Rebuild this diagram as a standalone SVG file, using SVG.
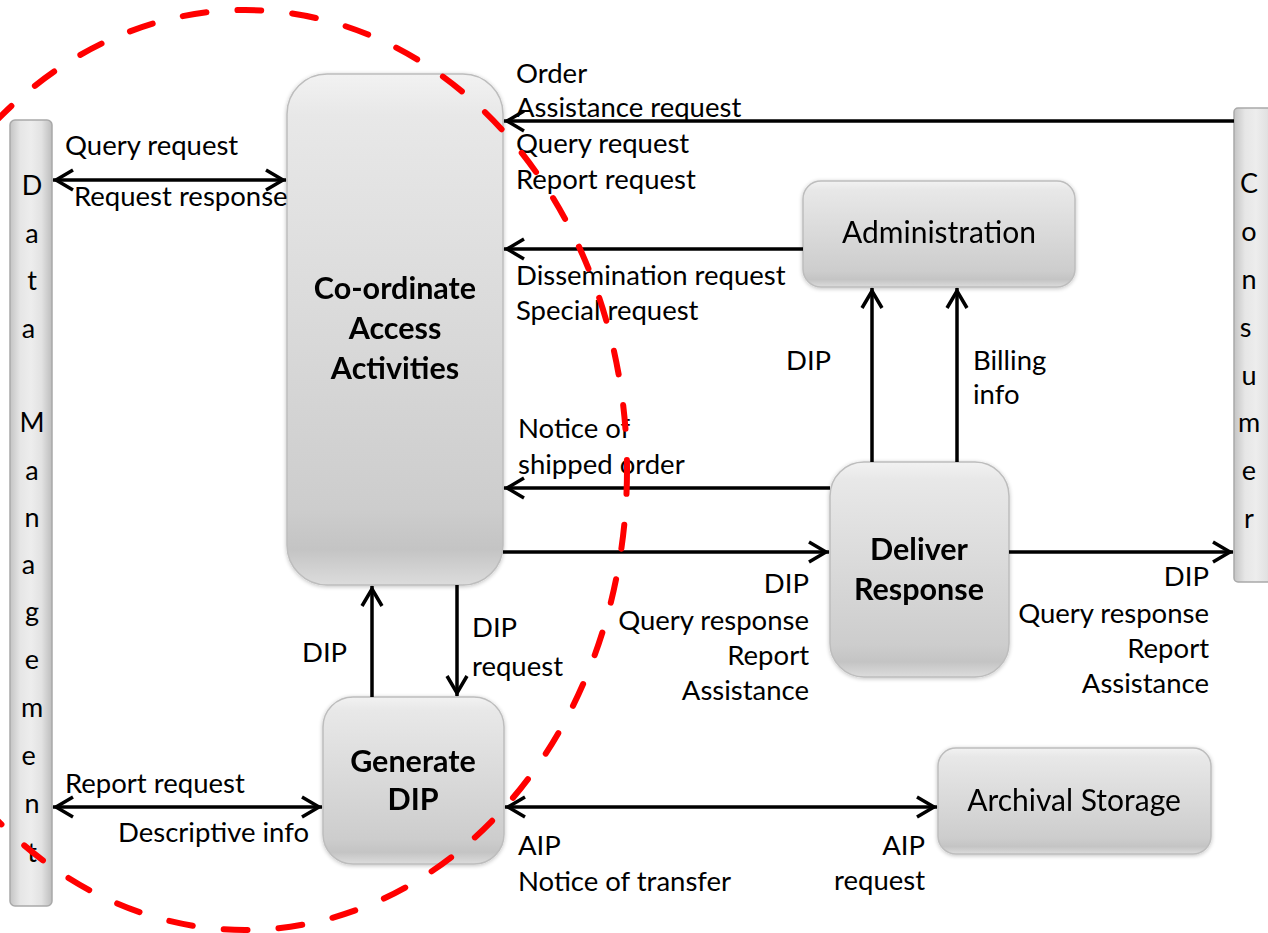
<svg xmlns="http://www.w3.org/2000/svg" width="1268" height="933" viewBox="0 0 1268 933">
  <defs>
    <linearGradient id="boxFill" x1="0" y1="0" x2="0" y2="1">
      <stop offset="0" stop-color="#f2f2f2"/>
      <stop offset="0.08" stop-color="#e8e8e8"/>
      <stop offset="0.85" stop-color="#cdcdcd"/>
      <stop offset="0.93" stop-color="#c4c4c4"/>
      <stop offset="1" stop-color="#dcdcdc"/>
    </linearGradient>
    <linearGradient id="barFill" x1="0" y1="0" x2="1" y2="0">
      <stop offset="0" stop-color="#c4c4c4"/>
      <stop offset="0.25" stop-color="#e6e6e6"/>
      <stop offset="0.5" stop-color="#ededed"/>
      <stop offset="0.75" stop-color="#e2e2e2"/>
      <stop offset="1" stop-color="#bdbdbd"/>
    </linearGradient>
    <filter id="soft" x="-10%" y="-10%" width="120%" height="120%">
      <feGaussianBlur in="SourceAlpha" stdDeviation="2"/>
      <feOffset dx="0" dy="1" result="b"/>
      <feComponentTransfer><feFuncA type="linear" slope="0.25"/></feComponentTransfer>
      <feMerge><feMergeNode/><feMergeNode in="SourceGraphic"/></feMerge>
    </filter>
    <marker id="ah" viewBox="-22 -13 26 26" refX="3" refY="0" markerWidth="26" markerHeight="26" markerUnits="userSpaceOnUse" orient="auto-start-reverse">
      <path d="M-17,-10 L0,0 L-17,10" fill="none" stroke="#000" stroke-width="3.5"/>
    </marker>
  </defs>
  <style>
    .box { fill: url(#boxFill); stroke: #bdbdbd; stroke-width: 1.5; }
    .bar { fill: url(#barFill); stroke: #a9a9a9; stroke-width: 1.5; }
    .lbl { font-family: Lato, "Liberation Sans", sans-serif; font-size: 27.5px; fill: #000; }
    .end { text-anchor: end; }
    .ttl { font-family: Lato, "Liberation Sans", sans-serif; font-size: 30.5px; font-weight: 700; fill: #000; text-anchor: middle; }
    .big { font-family: Lato, "Liberation Sans", sans-serif; font-size: 30px; fill: #000; text-anchor: middle; }
    .vert { font-family: Lato, "Liberation Sans", sans-serif; font-size: 27px; fill: #000; text-anchor: middle; }
    .flow { fill: none; stroke: #000; stroke-width: 3.5; marker-end: url(#ah); }
    .both { marker-start: url(#ah); }
    .scope { fill: none; stroke: #ff0000; stroke-width: 6; stroke-dasharray: 24 31; stroke-linecap: round; }
  </style>

  <!-- external entity: Data Management -->
  <g id="data-management">
    <rect class="bar" x="10" y="120" width="42" height="786" rx="5"/>
    <text class="vert">
      <tspan x="32" y="195">D</tspan><tspan x="32" y="243">a</tspan><tspan x="32" y="290">t</tspan><tspan x="32" y="338">a</tspan>
      <tspan x="32" y="432">M</tspan><tspan x="32" y="480">a</tspan><tspan x="32" y="527">n</tspan><tspan x="32" y="574">a</tspan>
      <tspan x="32" y="621">g</tspan><tspan x="32" y="669">e</tspan><tspan x="32" y="717">m</tspan><tspan x="32" y="765">e</tspan>
      <tspan x="32" y="813">n</tspan><tspan x="32" y="862">t</tspan>
    </text>
  </g>

  <!-- external entity: Consumer -->
  <g id="consumer">
    <rect class="bar" x="1234" y="108" width="44" height="474" rx="4"/>
    <text class="vert">
      <tspan x="1249" y="193">C</tspan><tspan x="1249" y="241">o</tspan><tspan x="1249" y="289">n</tspan><tspan x="1249" y="337">s</tspan>
      <tspan x="1249" y="385">u</tspan><tspan x="1249" y="432">m</tspan><tspan x="1249" y="480">e</tspan><tspan x="1249" y="528">r</tspan>
    </text>
  </g>

  <g id="coordinate-access" filter="url(#soft)">
    <rect class="box" x="287" y="74" width="216" height="511" rx="40"/>
    <text class="ttl"><tspan x="395" y="299">Co-ordinate</tspan><tspan x="395" y="339">Access</tspan><tspan x="395" y="379">Activities</tspan></text>
  </g>

  <g id="administration" filter="url(#soft)">
    <rect class="box" x="803" y="181" width="272" height="106" rx="18"/>
    <text class="big" x="939" y="243">Administration</text>
  </g>

  <g id="deliver-response" filter="url(#soft)">
    <rect class="box" x="830" y="462" width="179" height="215" rx="34"/>
    <text class="ttl"><tspan x="919" y="560">Deliver</tspan><tspan x="919" y="600">Response</tspan></text>
  </g>

  <g id="generate-dip" filter="url(#soft)">
    <rect class="box" x="323" y="697" width="181" height="167" rx="30"/>
    <text class="ttl"><tspan x="413" y="772">Generate</tspan><tspan x="413" y="810">DIP</tspan></text>
  </g>

  <g id="archival-storage" filter="url(#soft)">
    <rect class="box" x="938" y="748" width="273" height="106" rx="18"/>
    <text class="big" x="1074" y="811">Archival Storage</text>
  </g>

  <!-- data flows -->
  <g id="connectors">
    <line class="flow both" x1="53" y1="180" x2="286" y2="180"/>
    <line class="flow" x1="1234" y1="121" x2="504" y2="121"/>
    <line class="flow" x1="803" y1="249" x2="504" y2="249"/>
    <line class="flow" x1="830" y1="488" x2="504" y2="488"/>
    <line class="flow" x1="503" y1="552" x2="829" y2="552"/>
    <line class="flow" x1="1009" y1="552" x2="1233" y2="552"/>
    <line class="flow" x1="872" y1="462" x2="872" y2="288"/>
    <line class="flow" x1="957" y1="462" x2="957" y2="288"/>
    <line class="flow" x1="372" y1="697" x2="372" y2="586"/>
    <line class="flow" x1="457" y1="585" x2="457" y2="696"/>
    <line class="flow both" x1="53" y1="807" x2="322" y2="807"/>
    <line class="flow both" x1="505" y1="807" x2="937" y2="807"/>
  </g>

  <!-- flow labels -->
  <g id="labels">
    <text class="lbl" x="65" y="155">Query request</text>
    <text class="lbl" x="74" y="206">Request response</text>
    <text class="lbl" x="516" y="83">Order</text>
    <text class="lbl" x="516" y="117">Assistance request</text>
    <text class="lbl" x="516" y="153">Query request</text>
    <text class="lbl" x="516" y="189">Report request</text>
    <text class="lbl" x="516" y="285">Dissemination request</text>
    <text class="lbl" x="516" y="320">Special request</text>
    <text class="lbl" x="786" y="370">DIP</text>
    <text class="lbl" x="973" y="370">Billing</text>
    <text class="lbl" x="973" y="404">info</text>
    <text class="lbl" x="518" y="438">Notice of</text>
    <text class="lbl" x="518" y="474">shipped order</text>
    <text class="lbl end" x="809" y="593">DIP</text>
    <text class="lbl end" x="809" y="630">Query response</text>
    <text class="lbl end" x="809" y="665">Report</text>
    <text class="lbl end" x="809" y="700">Assistance</text>
    <text class="lbl end" x="1209" y="586">DIP</text>
    <text class="lbl end" x="1209" y="623">Query response</text>
    <text class="lbl end" x="1209" y="658">Report</text>
    <text class="lbl end" x="1209" y="693">Assistance</text>
    <text class="lbl" x="302" y="662">DIP</text>
    <text class="lbl" x="472" y="637">DIP</text>
    <text class="lbl" x="472" y="676">request</text>
    <text class="lbl" x="65" y="793">Report request</text>
    <text class="lbl end" x="309" y="842">Descriptive info</text>
    <text class="lbl" x="518" y="855">AIP</text>
    <text class="lbl" x="518" y="891">Notice of transfer</text>
    <text class="lbl end" x="925" y="855">AIP</text>
    <text class="lbl end" x="925" y="890">request</text>
  </g>

  <!-- dashed scope outline -->
  <ellipse id="scope" class="scope" cx="245" cy="470" rx="382" ry="460"/>
</svg>
